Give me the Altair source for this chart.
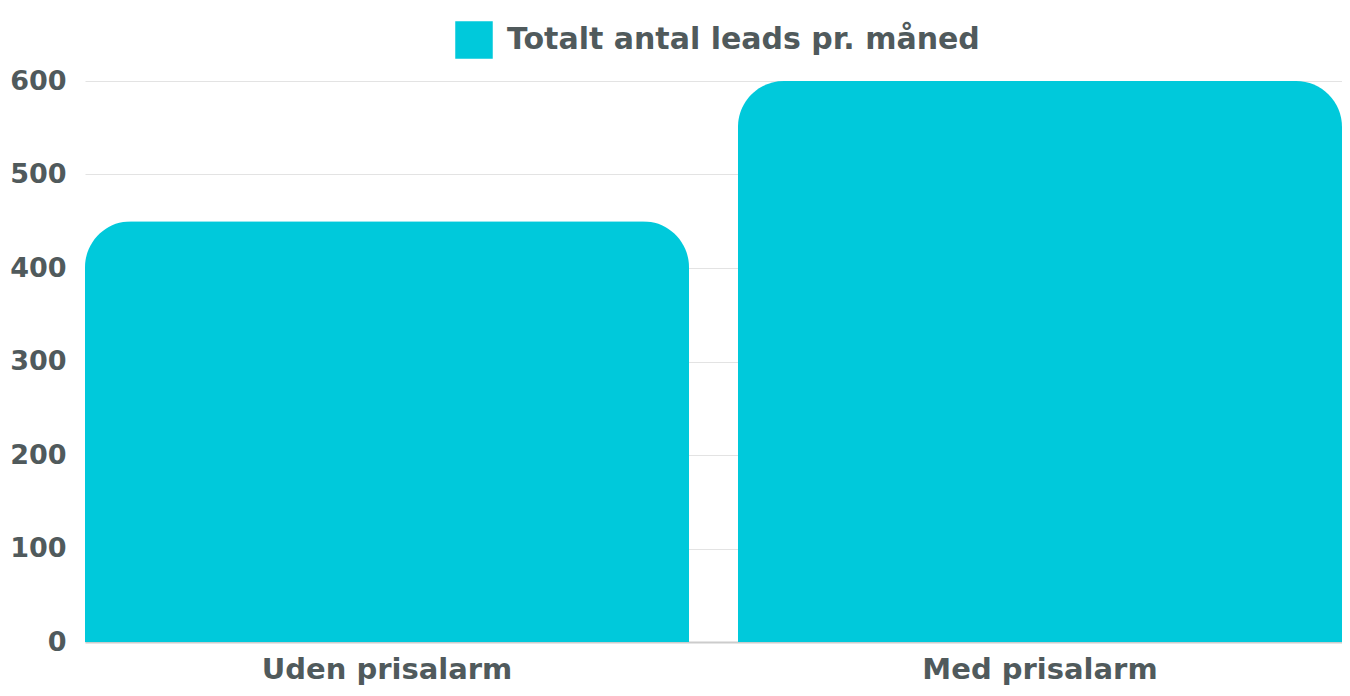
import altair as alt
import pandas as pd

categories = ["Uden prisalarm", "Med prisalarm"]
values = [450, 600]
series = ["Totalt antal leads pr. måned", "Totalt antal leads pr. måned"]

df = pd.DataFrame({"kategori": categories, "leads": values, "serie": series})

FONT = "DejaVu Sans"
TXT = "#505a5c"

chart = alt.Chart(df).mark_bar(
    cornerRadiusTopLeft=46, cornerRadiusTopRight=46
).encode(
    x=alt.X("kategori:N", sort=categories, title=None,
            scale=alt.Scale(paddingInner=0.075, paddingOuter=0),
            axis=alt.Axis(labelAngle=0, labelFontSize=29, labelFont=FONT,
                          labelFontWeight="bold", labelColor=TXT, ticks=False,
                          labelPadding=13, domainColor="#cccccc", domainWidth=2,
                          labelLimit=1000)),
    y=alt.Y("leads:Q", title=None,
            scale=alt.Scale(domain=[0, 600], nice=False),
            axis=alt.Axis(values=[0, 100, 200, 300, 400, 500, 600], labelFontSize=27,
                          labelFont=FONT, labelFontWeight="bold", labelColor=TXT,
                          ticks=False, domain=False, labelPadding=19,
                          gridColor="#e3e3e3", gridWidth=1)),
    color=alt.Color("serie:N", scale=alt.Scale(range=["#00C9DB"]),
                    legend=alt.Legend(title=None, orient="none", legendX=370, legendY=-60,
                                      symbolType="square", symbolSize=1406,
                                      symbolStrokeWidth=0, labelFontSize=30,
                                      labelFont=FONT, labelFontWeight="bold",
                                      labelColor=TXT, padding=0, labelOffset=14,
                                      labelLimit=800)),
).properties(
    width=1257, height=561,
    autosize=alt.AutoSizeParams(type="none"),
    padding={"left": 77, "top": 73, "right": 0, "bottom": 46},
).configure_view(stroke=None)

chart.save("out.html", embed_options={"renderer": "svg", "actions": False})
